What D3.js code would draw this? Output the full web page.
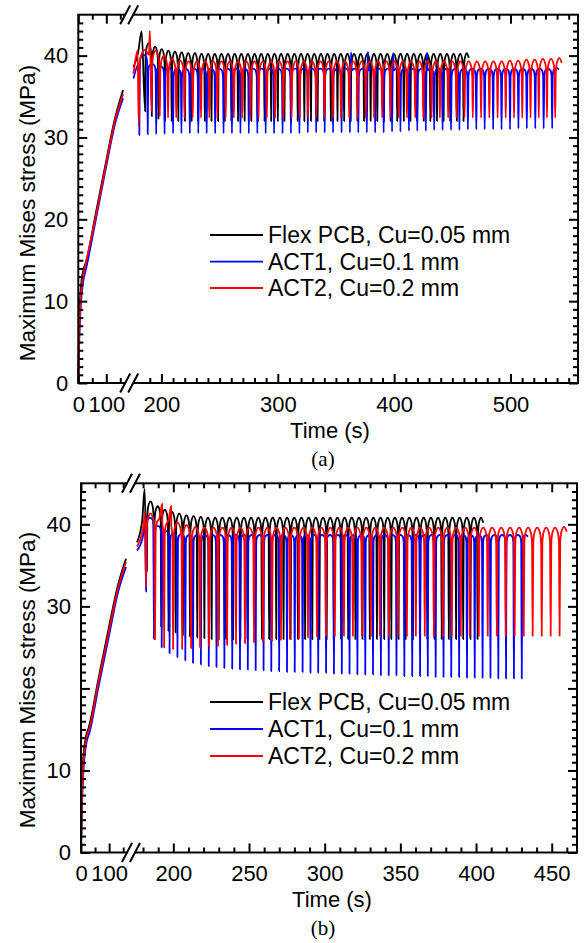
<!DOCTYPE html>
<html>
<head>
<meta charset="utf-8">
<script src="https://cdn.jsdelivr.net/npm/d3@7"></script>
<style>
  body { margin: 0; background: #fff; }
  text { font-family: "Liberation Sans", Arial, sans-serif; fill: #000; }
</style>
</head>
<body>
<svg id="fig" width="585" height="943"></svg>
<script>
// ---------------- Series names / colours ----------------
const seriesNames  = ["Flex PCB, Cu=0.05 mm", "ACT1, Cu=0.1 mm", "ACT2, Cu=0.2 mm"];
const seriesColors = ["#000000", "#0000ff", "#ff0000"];

// ---------------- Panel (a) ----------------
// Ramp-up [time s, stress MPa] before cycling begins
const aFlexRamp = [[0,0],[2,5],[5,9],[10,12],[18,13.8],[28,14.8],[60,20.3],[100,27.2],[130,32.2],[160,35.8],[176,38.6],[180,40.4],[183,43.0]];
const aAct1Ramp = [[0,0],[4,6],[10,10],[18,12.5],[28,14],[60,19.5],[100,26.5],[130,31.5],[160,34.8],[176,37.2],[180.5,39.0]];
const aAct2Ramp = [[0,0],[3,5.5],[7,9.5],[14,12.3],[25,14.3],[60,19.9],[100,26.9],[130,31.9],[160,35.3],[176,37.8],[179.5,40.6]];

// Cycle troughs (time, value) and plateau peak of each cycle
const aFlexTroughT = [186.0,191.7,197.4,203.1,208.8,214.5,220.2,225.9,231.6,237.3,243.0,248.7,254.4,260.1,265.8,271.5,277.2,282.9,288.6,294.3,300.0,305.7,311.4,317.1,322.8,328.5,334.2,339.9,345.6,351.3,357.0,362.7,368.4,374.1,379.8,385.5,391.2,396.9,402.6,408.3,414.0,419.7,425.4,431.1,436.8,442.5,448.2,453.9,459.6];
const aFlexTroughV = [33.2,32.6,32.3,32.1,32.0,32.0,32.0,32.0,32.0,32.0,32.0,32.0,32.0,32.0,32.0,32.0,32.0,32.0,32.0,32.0,32.0,32.0,32.0,32.0,32.0,32.0,32.0,32.0,32.0,32.0,32.0,32.0,32.0,32.0,32.0,32.0,32.0,32.0,32.0,32.0,32.0,32.0,32.0,32.0,32.0,32.0,32.0,32.0,32.0];
const aFlexPeakV   = [41.5,41.1,40.8,40.6,40.5,40.4,40.3,40.3,40.2,40.2,40.2,40.2,40.2,40.2,40.2,40.2,40.2,40.2,40.2,40.2,40.2,40.2,40.2,40.2,40.2,40.2,40.2,40.2,40.2,40.2,40.2,40.2,40.2,40.2,40.2,40.2,40.2,40.2,40.2,40.2,40.2,40.2,40.2,40.2,40.2,40.2,40.2,40.2,40.3];

const aAct1TroughT = [181.0,188.2,195.5,202.7,210.0,217.2,224.4,231.7,238.9,246.2,253.4,260.6,267.9,275.1,282.4,289.6,296.8,304.1,311.3,318.6,325.8,333.0,340.3,347.5,354.8,362.0,369.2,376.5,383.7,391.0,398.2,405.4,412.7,419.9,427.2,434.4,441.6,448.9,456.1,463.4,470.6,477.8,485.1,492.3,499.6,506.8,514.0,521.3,528.5,535.8];
const aAct1TroughV = [30.3,30.4,30.4,30.4,30.5,30.5,30.5,30.5,30.5,30.5,30.5,30.5,30.5,30.5,30.5,30.5,30.5,30.5,30.5,30.5,30.6,30.6,30.6,30.6,30.6,30.6,30.6,30.6,30.6,30.6,30.7,30.7,30.8,30.8,30.8,30.9,30.9,30.9,30.9,31.0,31.0,31.0,31.0,31.0,31.0,31.1,31.1,31.1,31.1,31.1];
const aAct1PeakV   = [40.1,39.0,38.7,38.5,38.4,38.4,38.4,38.4,38.4,38.4,38.4,38.4,38.4,38.4,38.4,38.4,38.4,38.4,38.4,38.4,38.4,38.4,38.4,38.4,38.4,38.4,38.4,38.4,38.4,38.4,38.4,38.4,38.4,38.4,38.4,38.4,38.4,38.4,38.4,38.4,38.4,38.4,38.4,38.4,38.4,38.4,38.4,38.4,38.4,38.5];
const aAct1Spikes  = [[363.0,40.4],[377.5,40.5],[399.2,40.3],[428.2,40.4]];

const aAct2TroughT = [180.5,191.5,198.6,205.7,212.7,219.8,226.9,234.0,241.1,248.1,255.2,262.3,269.4,276.5,283.5,290.6,297.7,304.8,311.9,318.9,326.0,333.1,340.2,347.3,354.3,361.4,368.5,375.6,382.7,389.7,396.8,403.9,411.0,418.1,425.1,432.2,439.3,446.4,453.5,460.5,467.6,474.7,481.8,488.9,495.9,503.0,510.1,517.2,524.3,531.3,538.4];
const aAct2TroughV = [31.4,33.2,32.6,32.4,32.4,32.4,32.4,32.4,32.4,32.4,32.4,32.4,32.4,32.4,32.4,32.4,32.4,32.4,32.4,32.4,32.4,32.4,32.4,32.4,32.4,32.4,32.4,32.4,32.4,32.4,32.4,32.4,32.4,32.4,32.4,32.4,32.4,32.4,32.4,32.4,32.4,32.4,32.4,32.4,32.4,32.4,32.4,32.4,32.4,32.4,32.4];
const aAct2PeakV   = [40.7,40.6,40.0,39.6,39.4,39.3,39.3,39.3,39.3,39.3,39.3,39.3,39.3,39.3,39.3,39.3,39.3,39.3,39.3,39.3,39.3,39.3,39.3,39.3,39.3,39.3,39.3,39.3,39.3,39.3,39.3,39.3,39.3,39.3,39.3,39.3,39.3,39.3,39.3,39.3,39.3,39.3,39.3,39.3,39.4,39.4,39.5,39.5,39.6,39.6,39.7];
const aAct2Spikes  = [[190.0,43.0]];

const aYTicks     = [0, 10, 20, 30, 40];
const aXTicksLow  = [0, 100];
const aXTicksHigh = [200, 300, 400, 500];

// ---------------- Panel (b) ----------------
const bFlexRamp = [[0,0],[2,5],[5,9.5],[10,12.3],[18,14.2],[28,15.3],[60,20.8],[100,27.6],[130,32.4],[160,35.8],[176,37.8],[179.5,40.6],[181,44.3]];
const bAct1Ramp = [[0,0],[3,5],[7,9],[12,11.5],[20,13.5],[30,14.6],[60,19.8],[100,26.5],[130,31.5],[160,34.8],[176,36.8],[180,38.6],[181.2,40.8]];
const bAct2Ramp = [[0,0],[2.5,5],[6,9.2],[11,12],[19,14],[29,15],[60,20.4],[100,27.1],[130,32],[160,35.4],[176,37.3],[180,39.5],[181.3,41.5]];

const bFlexTroughT = [182.5,187.3,192.0,196.8,201.5,206.3,211.0,215.8,220.5,225.3,230.0,234.8,239.5,244.3,249.0,253.8,258.5,263.3,268.0,272.8,277.5,282.3,287.0,291.8,296.5,301.3,306.0,310.8,315.5,320.3,325.0,329.8,334.5,339.3,344.0,348.8,353.5,358.3,363.0,367.8,372.5,377.3,382.0,386.8,391.5,396.3,401.0];
const bFlexTroughV = [34.3,28.5,27.5,27.0,26.8,26.5,26.3,26.2,26.1,26.0,26.0,26.0,26.0,26.0,26.0,26.0,26.0,26.0,26.0,26.0,26.0,26.0,26.0,26.0,26.0,26.0,26.0,26.0,26.0,26.0,26.0,26.0,26.0,26.0,26.0,26.0,26.0,26.0,26.0,26.0,26.0,26.0,26.0,26.0,26.0,26.0,26.0];
const bFlexPeakV   = [42.8,42.2,41.8,41.5,41.3,41.1,41.0,40.9,40.8,40.8,40.8,40.8,40.8,40.8,40.8,40.8,40.8,40.8,40.8,40.8,40.8,40.8,40.8,40.8,40.8,40.8,40.8,40.8,40.8,40.8,40.8,40.8,40.8,40.8,40.8,40.8,40.8,40.8,40.8,40.8,40.8,40.8,40.8,40.8,40.8,40.8,40.8];

const bAct1TroughT = [182.0,187.2,192.3,197.5,202.7,207.9,213.0,218.2,223.4,228.5,233.7,238.9,244.0,249.2,254.4,259.6,264.7,269.9,275.1,280.2,285.4,290.6,295.7,300.9,306.1,311.3,316.4,321.6,326.8,331.9,337.1,342.3,347.4,352.6,357.8,363.0,368.1,373.3,378.5,383.6,388.8,394.0,399.1,404.3,409.5,414.7,419.8,425.0,430.2];
const bAct1TroughV = [31.8,26.0,25.0,24.3,23.8,23.4,23.1,22.9,22.7,22.6,22.5,22.4,22.3,22.3,22.2,22.2,22.1,22.1,22.0,22.0,22.0,21.9,21.9,21.9,21.8,21.8,21.8,21.7,21.7,21.7,21.6,21.6,21.6,21.5,21.5,21.5,21.5,21.4,21.4,21.4,21.4,21.3,21.3,21.3,21.3,21.2,21.2,21.2,21.2];
const bAct1PeakV   = [40.8,39.8,39.2,38.9,38.8,38.7,38.7,38.7,38.7,38.7,38.7,38.7,38.7,38.7,38.7,38.7,38.7,38.7,38.7,38.7,38.7,38.7,38.7,38.7,38.7,38.7,38.7,38.7,38.7,38.7,38.7,38.7,38.7,38.7,38.7,38.7,38.7,38.7,38.7,38.7,38.7,38.7,38.7,38.7,38.7,38.7,38.7,38.7,38.7];

const bAct2TroughT = [182.0,187.9,193.9,199.8,205.8,211.7,217.6,223.6,229.5,235.5,241.4,247.3,253.3,259.2,265.2,271.1,277.0,283.0,288.9,294.9,300.8,306.7,312.7,318.6,324.6,330.5,336.4,342.4,348.3,354.3,360.2,366.1,372.1,378.0,384.0,389.9,395.8,401.8,407.7,413.7,419.6,425.5,431.5,437.4,443.4,449.3,455.2];
const bAct2TroughV = [32.3,26.0,25.0,24.8,24.8,24.9,25.0,25.1,25.2,25.3,25.4,25.5,25.6,25.7,25.8,25.9,26.0,26.1,26.2,26.3,26.4,26.4,26.4,26.4,26.4,26.4,26.4,26.4,26.4,26.4,26.4,26.4,26.4,26.4,26.4,26.4,26.4,26.4,26.4,26.4,26.4,26.4,26.4,26.4,26.4,26.4,26.4];
const bAct2PeakV   = [41.3,40.8,40.5,40.2,39.9,39.7,39.6,39.6,39.6,39.6,39.6,39.6,39.6,39.6,39.6,39.6,39.6,39.6,39.6,39.6,39.6,39.6,39.6,39.6,39.6,39.6,39.6,39.6,39.6,39.6,39.6,39.6,39.6,39.6,39.6,39.6,39.6,39.6,39.6,39.6,39.6,39.6,39.6,39.6,39.6,39.6,39.7];
const bAct2Spikes  = [[192.6,42.5],[198.6,42.2]];

const bYTicks     = [0, 10, 30, 40];
const bXTicksLow  = [0, 100];
const bXTicksHigh = [200, 250, 300, 350, 400, 450];

// ---------------- Waveform shape of one cycle ----------------
// [fraction of cycle, offset from cycle peak]
const arcShape  = [[0.07,-1.8],[0.2,-0.6],[0.5,0],[0.8,-0.6],[0.93,-1.8]];
const flatShape = [[0.07,-0.9],[0.2,-0.2],[0.5,0],[0.8,-0.2],[0.93,-0.9]];

function cyclePoints(tt, tv, pv, shape) {
  const pts = [];
  tt.forEach((t0, i) => {
    const last = i === tt.length - 1;
    const t1 = last ? t0 + (t0 - tt[i - 1]) : tt[i + 1];
    pts.push([t0, tv[i]]);
    shape.forEach(([f, d]) => {
      if (last && f > 0.8) return;
      pts.push([t0 + f * (t1 - t0), pv[i] + d]);
    });
  });
  return pts;
}

function buildSeries(ramp, tt, tv, pv, shape, extra) {
  return ramp.concat(cyclePoints(tt, tv, pv, shape), extra || [])
    .sort((p, q) => p[0] - q[0]);
}

const panelData = {
  a: [
    buildSeries(aFlexRamp, aFlexTroughT, aFlexTroughV, aFlexPeakV, arcShape),
    buildSeries(aAct1Ramp, aAct1TroughT, aAct1TroughV, aAct1PeakV, flatShape, aAct1Spikes),
    buildSeries(aAct2Ramp, aAct2TroughT, aAct2TroughV, aAct2PeakV, arcShape, aAct2Spikes)
  ],
  b: [
    buildSeries(bFlexRamp, bFlexTroughT, bFlexTroughV, bFlexPeakV, arcShape),
    buildSeries(bAct1Ramp, bAct1TroughT, bAct1TroughV, bAct1PeakV, flatShape),
    buildSeries(bAct2Ramp, bAct2TroughT, bAct2TroughV, bAct2PeakV, arcShape, bAct2Spikes)
  ]
};

// ---------------- Layout of the two panels ----------------
const layout = [
  { key: "a", l: 78.3, r: 578, t: 14.7, b: 383,
    low: [0, 160], lowR: [78.3, 123.1], high: [176, 558], highR: [133.5, 578],
    lowMinor: [50, 150], highMinor: d3.range(190, 551, 10),
    yTicks: aYTicks, xLow: aXTicksLow, xHigh: aXTicksHigh,
    brk: 129.2, legendY: [235, 261.7, 288], titleY: 213, xTitleX: 330, xTitleY: 438,
    caption: "(a)", captionY: 466 },
  { key: "b", l: 81, r: 577, t: 483.3, b: 852.5,
    low: [0, 160], lowR: [81, 126], high: [176, 466.7], highR: [137, 577],
    lowMinor: [50, 150], highMinor: d3.range(180, 461, 10),
    yTicks: bYTicks, xLow: bXTicksLow, xHigh: bXTicksHigh,
    brk: 131, legendY: [702, 729, 756], titleY: 680, xTitleX: 332, xTitleY: 907,
    caption: "(b)", captionY: 935 }
];

const svg = d3.select("#fig");
svg.append("rect").attr("width", 585).attr("height", 943).attr("fill", "#fff");

layout.forEach(P => {
  const g = svg.append("g");
  const y = d3.scaleLinear().domain([0, 45]).range([P.b, P.t]);
  const xLo = d3.scaleLinear().domain(P.low).range(P.lowR);
  const xHi = d3.scaleLinear().domain(P.high).range(P.highR);

  // curves, split across the axis break
  const line = (sx) => d3.line().x(d => sx(d[0])).y(d => y(d[1])).curve(d3.curveMonotoneX);
  panelData[P.key].forEach((pts, i) => {
    const lo = pts.filter(d => d[0] <= P.low[1]);
    const hi = pts.filter(d => d[0] >= P.high[0]);
    [[lo, xLo], [hi, xHi]].forEach(([seg, sx]) => {
      g.append("path").datum(seg)
        .attr("d", line(sx))
        .attr("fill", "none")
        .attr("stroke", seriesColors[i])
        .attr("stroke-width", 1.8)
        .attr("stroke-linejoin", "round");
    });
  });

  // frame
  g.append("rect").attr("x", P.l).attr("y", P.t)
    .attr("width", P.r - P.l).attr("height", P.b - P.t)
    .attr("fill", "none").attr("stroke", "#000").attr("stroke-width", 2);

  const styleAxis = sel => {
    sel.select(".domain").remove();
    sel.selectAll(".tick line").attr("stroke", "#000").attr("stroke-width", 2);
    sel.selectAll(".tick text").attr("font-size", "22px")
      .attr("font-family", '"Liberation Sans", Arial, sans-serif').attr("fill", "#000");
  };

  // x axes (bottom labelled, top mirrored), low and high segments
  [[xLo, P.xLow, P.lowMinor], [xHi, P.xHigh, P.highMinor]].forEach(([sx, major, minor]) => {
    const minorOnly = minor.filter(v => !major.includes(v));
    g.append("g").attr("transform", `translate(0,${P.b})`)
      .call(d3.axisBottom(sx).tickValues(major).tickSizeInner(-9).tickSizeOuter(0).tickPadding(13).tickFormat(d3.format("d")))
      .call(styleAxis);
    g.append("g").attr("transform", `translate(0,${P.b})`)
      .call(d3.axisBottom(sx).tickValues(minorOnly).tickSizeInner(-5).tickSizeOuter(0).tickFormat(""))
      .call(styleAxis);
    g.append("g").attr("transform", `translate(0,${P.t})`)
      .call(d3.axisTop(sx).tickValues(major).tickSizeInner(-9).tickSizeOuter(0).tickFormat(""))
      .call(styleAxis);
    g.append("g").attr("transform", `translate(0,${P.t})`)
      .call(d3.axisTop(sx).tickValues(minorOnly).tickSizeInner(-5).tickSizeOuter(0).tickFormat(""))
      .call(styleAxis);
  });

  // y axes
  const yMinor = d3.range(1, 45).filter(v => v % 10 !== 0);
  const yMajor = [0, 10, 20, 30, 40];
  g.append("g").attr("transform", `translate(${P.l},0)`)
    .call(d3.axisLeft(y).tickValues(yMajor).tickSizeInner(-9).tickSizeOuter(0).tickPadding(10)
      .tickFormat(v => P.yTicks.includes(v) ? String(v) : ""))
    .call(styleAxis);
  g.append("g").attr("transform", `translate(${P.l},0)`)
    .call(d3.axisLeft(y).tickValues(yMinor).tickSizeInner(-5).tickSizeOuter(0).tickFormat(""))
    .call(styleAxis);
  g.append("g").attr("transform", `translate(${P.r},0)`)
    .call(d3.axisRight(y).tickValues(yMajor).tickSizeInner(-9).tickSizeOuter(0).tickFormat(""))
    .call(styleAxis);
  g.append("g").attr("transform", `translate(${P.r},0)`)
    .call(d3.axisRight(y).tickValues(yMinor).tickSizeInner(-5).tickSizeOuter(0).tickFormat(""))
    .call(styleAxis);

  // axis break marks "//" on top and bottom edges
  [P.t, P.b].forEach(yy => {
    const c = P.brk, h = 9.5, w = 5, gap = 4;
    g.append("polygon")
      .attr("points", [[c - gap - w, yy + h], [c + gap - w, yy + h], [c + gap + w, yy - h], [c - gap + w, yy - h]].map(p => p.join(",")).join(" "))
      .attr("fill", "#fff");
    [-gap, gap].forEach(o => {
      g.append("line")
        .attr("x1", c + o - w).attr("y1", yy + h)
        .attr("x2", c + o + w).attr("y2", yy - h)
        .attr("stroke", "#000").attr("stroke-width", 2);
    });
  });

  // legend
  seriesNames.forEach((name, i) => {
    const ly = P.legendY[i];
    g.append("line").attr("x1", 210).attr("x2", 263).attr("y1", ly).attr("y2", ly)
      .attr("stroke", seriesColors[i]).attr("stroke-width", 1.8);
    g.append("text").attr("x", 268).attr("y", ly).attr("dy", "0.35em")
      .attr("font-size", "23px").text(name);
  });

  // axis titles
  g.append("text").attr("x", P.xTitleX).attr("y", P.xTitleY)
    .attr("text-anchor", "middle").attr("font-size", "22px").text("Time (s)");
  g.append("text")
    .attr("transform", `translate(35,${P.titleY}) rotate(-90)`)
    .attr("text-anchor", "middle").attr("font-size", "22.5px")
    .text("Maximum Mises stress (MPa)");

  // panel caption
  g.append("text").attr("x", 323).attr("y", P.captionY)
    .attr("text-anchor", "middle").attr("font-size", "21px")
    .style("font-family", '"Liberation Serif", "Times New Roman", serif')
    .text(P.caption);
});
</script>
</body>
</html>
